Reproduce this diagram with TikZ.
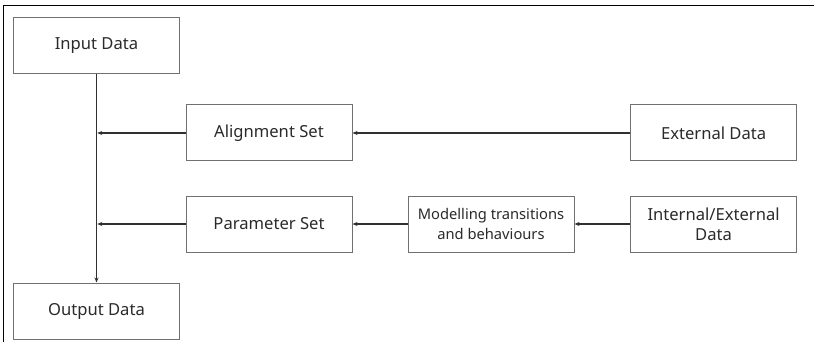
\documentclass[tikz,border=0pt]{standalone}
\usepackage{fontspec}
\setmainfont{Noto Sans}
\usetikzlibrary{arrows.meta,positioning}
\definecolor{boxline}{HTML}{707070}
\definecolor{flowline}{HTML}{303030}
\definecolor{labelink}{HTML}{2A2A2A}

\begin{document}
\begin{tikzpicture}[
  every node/.style={font=\fontsize{16.6}{20}\selectfont, text=labelink},
  box/.style={draw=boxline, line width=1pt, minimum width=166pt, minimum height=56pt,
              inner sep=2pt, align=center},
  arr/.style={-{Stealth[length=5pt,width=4pt]}, line width=1.5pt, color=flowline},
  frame/.style={line width=1.2pt, color=black},
]
  \useasboundingbox (0,0) rectangle (814pt,-342pt);
  \draw[frame] (3.5pt,-342pt) -- (3.5pt,-5.5pt) -- (814pt,-5.5pt);

  \node[box] (input) at (96.5pt,-45.3pt) {Input Data};
  \node[box, below right=30.7pt and 5.5pt of input] (align) {Alignment Set};
  \node[box, below=34pt of align] (param) {Parameter Set};
  \node[box, right=55pt of param, font=\fontsize{14.7}{19.5}\selectfont] (model) {Modelling transitions\\and behaviours};
  \node[box, right=55.6pt of model] (internal) {Internal/External\\Data};
  \node[box, above=34pt of internal] (external) {External Data};
  \node[box, below left=30pt and 5.5pt of param] (output) {Output Data};

  \coordinate (joinA) at ([xshift=0.75pt]input.south |- align.west);
  \coordinate (joinP) at ([xshift=0.75pt]input.south |- param.west);

  \draw[arr] (input) -- (output);
  \draw[arr] (align) -- (joinA);
  \draw[arr] (param) -- (joinP);
  \draw[arr] (external) -- (align);
  \draw[arr] (model) -- (param);
  \draw[arr] (internal) -- (model);
\end{tikzpicture}
\end{document}
